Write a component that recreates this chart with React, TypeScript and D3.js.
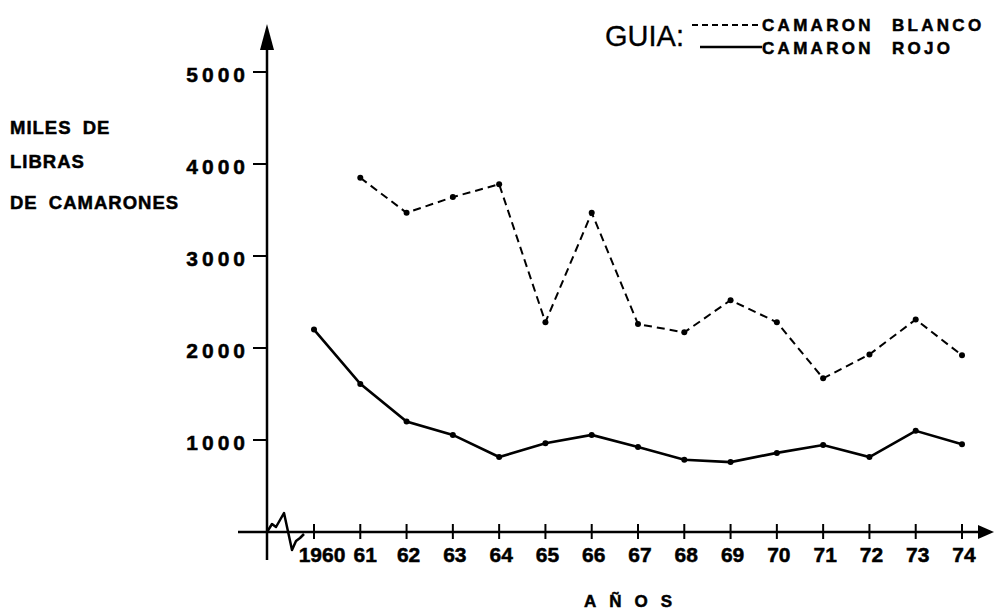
import { useEffect, useRef } from "react";
import * as d3 from "d3";

const years = [1960, 1961, 1962, 1963, 1964, 1965, 1966, 1967, 1968, 1969, 1970, 1971, 1972, 1973, 1974];
const yearLabels = ["1960", "61", "62", "63", "64", "65", "66", "67", "68", "69", "70", "71", "72", "73", "74"];
const blancoYears = [1961, 1962, 1963, 1964, 1965, 1966, 1967, 1968, 1969, 1970, 1971, 1972, 1973, 1974];
const blanco = [3850, 3470, 3640, 3780, 2280, 3470, 2260, 2170, 2520, 2280, 1670, 1930, 2310, 1920];
const rojo = [2200, 1610, 1200, 1055, 815, 965, 1055, 925, 785, 760, 860, 945, 815, 1100, 955];
const yTicks = [1000, 2000, 3000, 4000, 5000];
const yTitle = ["MILES DE", "LIBRAS", "DE CAMARONES"];

export default function App() {
  const svgRef = useRef(null);

  useEffect(() => {
    const width = 997;
    const height = 612;
    const svg = d3.select(svgRef.current);
    svg.selectAll("*").remove();
    svg.attr("width", width).attr("height", height);

    const font = "'Liberation Sans', Arial, sans-serif";
    const x = d3.scaleLinear().domain([1960, 1974]).range([314, 962]);
    const y = d3.scaleLinear().domain([0, 5000]).range([532, 72]);
    const x0 = 267;
    const y0 = y(0);

    svg.append("rect").attr("width", width).attr("height", height).attr("fill", "#fff");

    const bold = (sel: any, size: number, spacing: number) =>
      sel.attr("font-family", font).attr("font-weight", "bold").attr("font-size", size)
        .attr("letter-spacing", spacing).attr("stroke", "#000").attr("stroke-width", 0.5).attr("fill", "#000");

    // axes
    svg.append("line").attr("x1", x0).attr("x2", x0).attr("y1", 45).attr("y2", 560)
      .attr("stroke", "#000").attr("stroke-width", 2.5);
    svg.append("path").attr("d", `M${x0},24 L${x0 - 7},50 L${x0 + 7},50 Z`).attr("fill", "#000");
    svg.append("line").attr("x1", 238).attr("x2", 982).attr("y1", y0).attr("y2", y0)
      .attr("stroke", "#000").attr("stroke-width", 2.5);
    svg.append("path").attr("d", `M994,${y0} L978,${y0 - 7} L978,${y0 + 7} Z`).attr("fill", "#000");

    // axis break
    svg.append("path")
      .attr("d", `M${x0},${y0} L272,${y0 - 8} L276,${y0 - 5} L284,${y0 - 19} L292,${y0 + 18} L296,${y0 + 9} L300,${y0 + 6} L304,${y0 + 2}`)
      .attr("fill", "none").attr("stroke", "#000").attr("stroke-width", 2.5).attr("stroke-linejoin", "round");

    // y ticks
    const yg = svg.append("g");
    yTicks.forEach((t) => {
      yg.append("line").attr("x1", x0 - 14).attr("x2", x0).attr("y1", y(t)).attr("y2", y(t))
        .attr("stroke", "#000").attr("stroke-width", 2);
      bold(yg.append("text").attr("x", 249).attr("y", y(t) + 10).attr("text-anchor", "end"), 21, 4)
        .text(String(t));
    });

    // x ticks
    const xg = svg.append("g");
    years.forEach((yr, i) => {
      xg.append("line").attr("x1", x(yr)).attr("x2", x(yr)).attr("y1", y0 - 8).attr("y2", y0 + 7)
        .attr("stroke", "#000").attr("stroke-width", 2);
      bold(xg.append("text").attr("x", x(yr) + (i === 0 ? 8 : i === 1 ? 5 : 2)).attr("y", y0 + 30).attr("text-anchor", "middle"), 21, 0)
        .text(yearLabels[i]);
    });

    // titles
    yTitle.forEach((t, i) => {
      bold(svg.append("text").attr("x", 10).attr("y", [134, 168, 209][i]), 18.5, 1).attr("word-spacing", 5).text(t);
    });
    bold(svg.append("text").attr("x", 584).attr("y", 607), 17, 13).text("AÑOS");

    // legend
    svg.append("text").attr("x", 605).attr("y", 46)
      .attr("font-family", font).attr("font-size", 29).attr("stroke", "#000").attr("stroke-width", 0.3).text("GUIA:");
    svg.append("line").attr("x1", 692).attr("x2", 760).attr("y1", 25).attr("y2", 25)
      .attr("stroke", "#000").attr("stroke-width", 2).attr("stroke-dasharray", "6,4");
    svg.append("line").attr("x1", 700).attr("x2", 762).attr("y1", 47).attr("y2", 47)
      .attr("stroke", "#000").attr("stroke-width", 2.5);
    bold(svg.append("text").attr("x", 762).attr("y", 31), 17, 3.3).attr("word-spacing", 10).text("CAMARON BLANCO");
    bold(svg.append("text").attr("x", 762).attr("y", 54), 17, 3.3).attr("word-spacing", 10).text("CAMARON ROJO");

    // series
    const blancoData = blancoYears.map((yr, i) => [yr, blanco[i]] as [number, number]);
    const rojoData = years.map((yr, i) => [yr, rojo[i]] as [number, number]);
    const line = d3.line<[number, number]>().x((d) => x(d[0])).y((d) => y(d[1]));

    svg.append("path").datum(blancoData).attr("d", line).attr("fill", "none")
      .attr("stroke", "#000").attr("stroke-width", 2).attr("stroke-dasharray", "8,5");
    svg.append("path").datum(rojoData).attr("d", line).attr("fill", "none")
      .attr("stroke", "#000").attr("stroke-width", 2.6);

    [blancoData, rojoData].forEach((data) => {
      svg.append("g").selectAll("circle").data(data).join("circle")
        .attr("cx", (d) => x(d[0])).attr("cy", (d) => y(d[1])).attr("r", 3).attr("fill", "#000");
    });
  }, []);

  return <svg ref={svgRef} style={{ position: "absolute", left: 0, top: 0 }}></svg>;
}
